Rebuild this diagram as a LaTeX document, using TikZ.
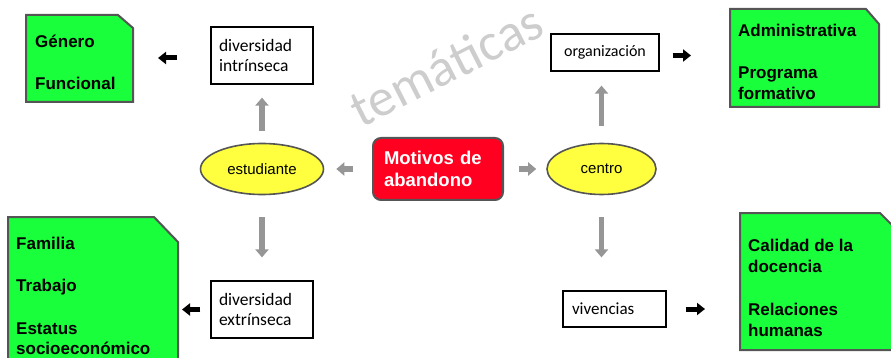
\documentclass[tikz,border=0pt]{standalone}
\usepackage{fontspec}
\setmainfont{Liberation Sans}
\newfontfamily\calibri{Carlito}
\usetikzlibrary{arrows.meta,shapes.geometric}
\definecolor{boxgreen}{RGB}{25,255,60}
\definecolor{boxred}{RGB}{255,0,32}
\definecolor{ellyellow}{RGB}{255,255,64}
\definecolor{edgegray}{RGB}{85,85,85}
\definecolor{arrgray}{RGB}{150,150,150}
\definecolor{wmgray}{RGB}{205,205,205}
\begin{document}
\begin{tikzpicture}[x=1pt,y=-1pt,
 greenbox/.style={fill=boxgreen, draw=edgegray, line width=2pt, line join=miter},
 greenshape/.style={rectangle, inner sep=0pt, outer sep=0pt},
 greentext/.style={anchor=base west, inner sep=0pt, font=\fontsize{17}{20}\selectfont\bfseries},
 ell/.style={ellipse, fill=ellyellow, draw=edgegray, line width=1.6pt, inner sep=0pt, font=\fontsize{15}{18}\selectfont},
 plainbox/.style={rectangle, draw=black, line width=1.2pt, fill=white, inner sep=0pt, inner xsep=8pt, align=left, font=\calibri\fontsize{17.5}{20}\selectfont},
 grayarr/.style={draw=arrgray, line width=5.5pt, -{Triangle[length=8pt,width=13pt]}},
 blackarr/.style={draw=black, line width=5pt, -{Triangle[length=8pt,width=12pt]}},
 redbox/.style={rectangle, rounded corners=8pt, fill=boxred, draw=edgegray, line width=2pt, inner xsep=11pt, inner ysep=0pt, align=left, text=white, font=\fontsize{18.5}{22}\selectfont\bfseries},
 watermark/.style={text=wmgray, font=\calibri\fontsize{53}{53}\selectfont}
]
\useasboundingbox (0,0) rectangle (891,358);
\clip (0,0) rectangle (891,358);

\node[watermark, rotate=27] (wm) at (446,65) {temáticas};

% green boxes
\node[greenshape, minimum width=107pt, minimum height=87pt] (g1) at (79.5,58.5) {};
\draw[greenbox] (g1.north west) -- ([xshift=-15pt]g1.north east) -- ([yshift=-13pt]g1.north east) -- (g1.south east) -- (g1.south west) -- cycle;
\node[greenshape, minimum width=149pt, minimum height=98pt] (g2) at (804.5,58) {};
\draw[greenbox] (g2.north west) -- ([xshift=-13pt]g2.north east) -- ([yshift=-15pt]g2.north east) -- (g2.south east) -- (g2.south west) -- cycle;
\node[greenshape, minimum width=170pt, minimum height=158pt] (g3) at (93,296) {};
\draw[greenbox] (g3.north west) -- ([xshift=-24pt]g3.north east) -- ([yshift=-25pt]g3.north east) -- (g3.south east) -- (g3.south west) -- cycle;
\node[greenshape, minimum width=155pt, minimum height=137pt] (g4) at (817.5,281.5) {};
\draw[greenbox] (g4.north west) -- ([xshift=-15pt]g4.north east) -- ([yshift=-15pt]g4.north east) -- (g4.south east) -- (g4.south west) -- cycle;

\node[greentext] (t1a) at (35,48) {Género};
\node[greentext] (t1b) at (35,90) {Funcional};
\node[greentext] (t2a) at (738,37) {Administrativa};
\node[greentext] (t2b) at (738,79) {Programa};
\node[greentext] (t2c) at (738,100) {formativo};
\node[greentext] (t3a) at (16,249) {Familia};
\node[greentext] (t3b) at (16,291.5) {Trabajo};
\node[greentext] (t3c) at (16,334) {Estatus};
\node[greentext] (t3d) at (16,354) {socioeconómico};
\node[greentext] (t4a) at (748,251) {Calidad de la};
\node[greentext] (t4b) at (748,272.5) {docencia};
\node[greentext] (t4c) at (748,315) {Relaciones};
\node[greentext] (t4d) at (748,336) {humanas};

% central nodes
\node[ell, minimum width=123pt, minimum height=51pt] (estud) at (262,169) {estudiante};
\node[ell, minimum width=109pt, minimum height=51pt] (centro) at (601.5,169) {centro};
\node[redbox, minimum width=130pt, minimum height=62pt, text width=108pt] (motivos) at (438,169) {Motivos de\\abandono};

\node[plainbox, text width=86pt, minimum height=57pt] (dint) at (262,55.5) {diversidad\\intrínseca};
\node[plainbox, text width=86pt, minimum height=57pt] (dext) at (262,309.5) {diversidad\\extrínseca};
\node[plainbox, minimum width=108pt, minimum height=37pt, align=center, font=\calibri\fontsize{16}{20}\selectfont] (org) at (605,52.5) {organización};
\node[plainbox, text width=85pt, inner xsep=9pt, minimum height=36pt, font=\calibri\fontsize{17}{20}\selectfont] (viv) at (614.5,309) {vivencias};

% gray arrows
\draw[grayarr, shorten <=12pt, shorten >=13pt] (estud) -- (dint);
\draw[grayarr, shorten <=19pt, shorten >=12pt] (motivos) -- (estud);
\draw[grayarr, shorten <=15pt, shorten >=10pt] (motivos) -- (centro);
\draw[grayarr, shorten <=17pt, shorten >=14pt] (centro) -- (centro |- org.south);
\draw[grayarr, shorten <=22pt, shorten >=23pt] (estud) -- (dext);
\draw[grayarr, shorten <=22pt, shorten >=33pt] (centro) -- (centro |- viv.north);

% black arrows
\draw[blackarr, shorten <=33pt, shorten >=25pt] ([yshift=-2.5pt]dint.west) -- ([yshift=-2.5pt]dint.west -| g1.east);
\draw[blackarr, shorten <=13pt, shorten >=39pt] ([yshift=-3pt]org.east) -- ([yshift=-3pt]org.east -| g2.west);
\draw[blackarr, shorten <=10pt, shorten >=4pt] (dext.west) -- (dext.west -| g3.east);
\draw[blackarr, shorten <=19pt, shorten >=35pt] (viv.east) -- (viv.east -| g4.west);
\end{tikzpicture}
\end{document}
